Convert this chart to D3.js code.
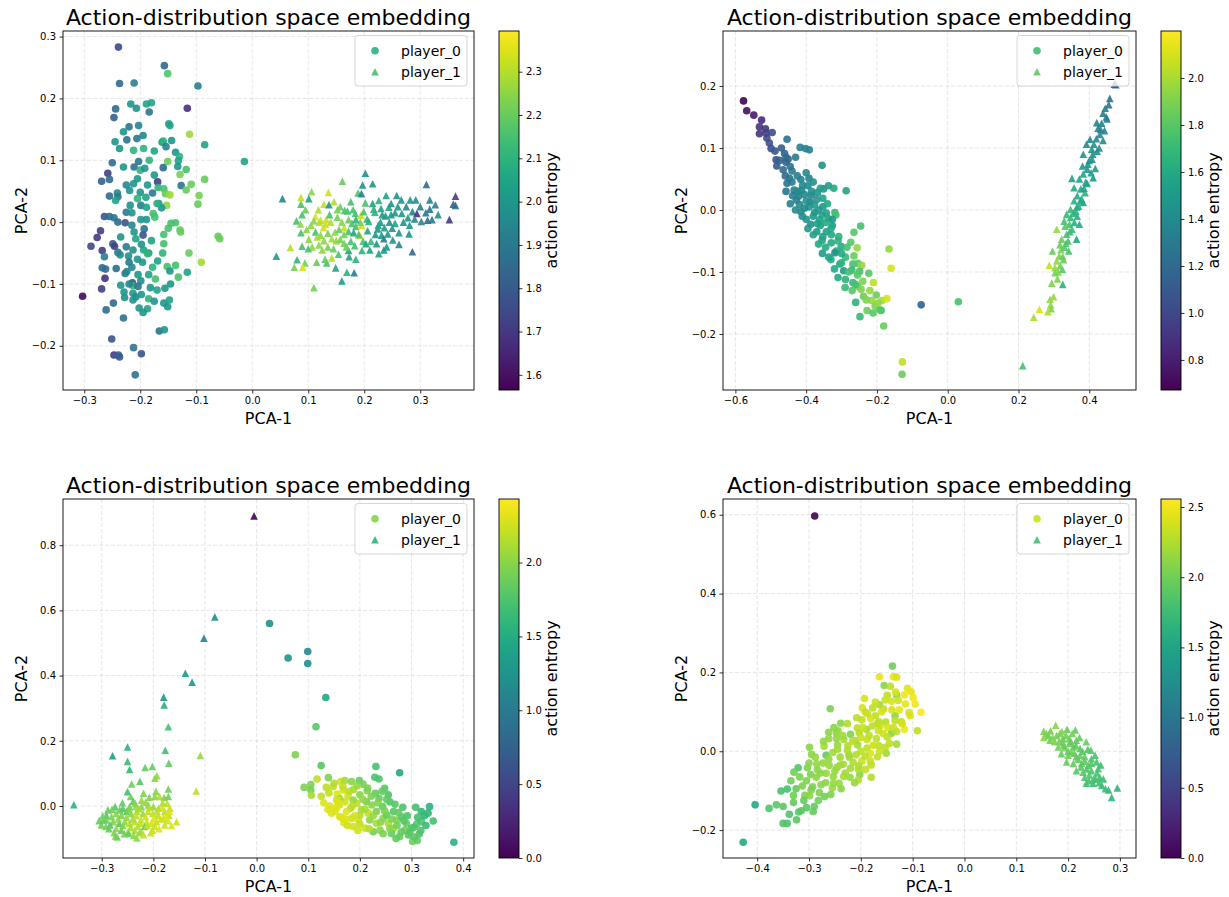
<!DOCTYPE html>
<html><head><meta charset="utf-8">
<script src="https://cdn.jsdelivr.net/npm/d3@7"></script>
<style>body{margin:0;background:#fff} text{font-family:"DejaVu Sans",sans-serif}</style>
</head><body><svg id="c" width="1229" height="897"></svg>
<script>
// ---------- DATA: [PCA-1, PCA-2, action entropy] ----------
const p1Player0 = [
[-0.239,0.283,1.75],[-0.157,0.253,1.85],[-0.151,0.240,2.17],[-0.237,0.224,1.85],[-0.211,0.225,1.92],[-0.097,0.220,1.92],[-0.116,0.184,1.68],[-0.244,0.183,1.85],[-0.247,0.169,1.82],[-0.217,0.191,2.0],
[-0.207,0.184,1.98],[-0.189,0.191,2.05],[-0.180,0.193,2.05],[-0.184,0.178,1.88],[-0.149,0.159,2.05],[-0.147,0.156,2.05],[-0.220,0.154,1.88],[-0.203,0.156,1.95],[-0.230,0.146,2.0],[-0.112,0.142,2.27],
[-0.245,0.130,2.0],[-0.224,0.133,1.88],[-0.206,0.135,1.9],[-0.161,0.129,2.0],[-0.144,0.132,2.0],[-0.159,0.131,2.1],[-0.154,0.122,1.92],[-0.085,0.125,2.05],[-0.237,0.119,2.0],[-0.212,0.116,2.1],
[-0.194,0.119,2.1],[-0.137,0.113,2.0],[-0.130,0.106,2.1],[-0.014,0.098,2.05],[-0.250,0.096,1.85],[-0.203,0.098,1.88],[-0.184,0.100,2.1],[-0.151,0.098,2.2],[-0.132,0.099,2.05],[-0.230,0.089,2.0],
[-0.211,0.089,1.88],[-0.159,0.088,1.85],[-0.133,0.090,2.0],[-0.200,0.084,2.1],[-0.192,0.087,2.0],[-0.118,0.085,2.15],[-0.258,0.079,1.72],[-0.129,0.077,2.22],[-0.085,0.069,2.2],[-0.255,0.069,1.85],
[-0.269,0.066,1.82],[-0.175,0.076,2.0],[-0.169,0.065,1.72],[-0.212,0.062,2.0],[-0.187,0.060,2.0],[-0.127,0.059,1.88],[-0.109,0.061,2.2],[-0.168,0.056,2.1],[-0.158,0.054,2.15],[-0.219,0.051,2.0],
[-0.200,0.048,2.0],[-0.178,0.047,1.9],[-0.155,0.046,2.2],[-0.147,0.044,2.27],[-0.118,0.052,2.2],[-0.095,0.043,2.22],[-0.255,0.042,1.85],[-0.241,0.047,1.95],[-0.240,0.041,1.9],[-0.244,0.035,2.05],
[-0.205,0.038,2.1],[-0.097,0.029,2.2],[-0.153,0.027,2.25],[-0.167,0.030,2.0],[-0.218,0.027,1.98],[-0.199,0.027,1.92],[-0.189,0.024,2.05],[-0.162,0.023,2.0],[-0.225,0.016,1.9],[-0.215,0.015,2.0],
[-0.177,0.014,2.15],[-0.174,0.008,2.15],[-0.264,0.009,1.78],[-0.255,0.009,1.85],[-0.247,0.007,1.88],[-0.227,-0.001,1.78],[-0.199,0.004,2.0],[-0.189,0.004,2.0],[-0.145,-0.002,2.15],[-0.137,-0.001,2.15],
[-0.150,-0.010,2.15],[-0.129,-0.013,2.2],[-0.128,-0.016,2.2],[-0.061,-0.023,2.2],[-0.058,-0.027,2.2],[-0.271,-0.014,1.72],[-0.277,-0.025,1.7],[-0.288,-0.039,1.75],[-0.249,-0.035,1.8],[-0.246,-0.039,1.72],
[-0.235,-0.024,2.0],[-0.211,-0.016,2.0],[-0.208,-0.027,2.05],[-0.193,-0.011,1.88],[-0.195,-0.021,1.78],[-0.158,-0.020,2.15],[-0.158,-0.035,2.15],[-0.268,-0.046,1.72],[-0.264,-0.056,1.92],[-0.240,-0.049,1.9],
[-0.236,-0.053,1.95],[-0.221,-0.055,1.98],[-0.213,-0.045,1.98],[-0.198,-0.036,2.0],[-0.194,-0.045,2.05],[-0.185,-0.050,2.0],[-0.187,-0.051,2.1],[-0.113,-0.050,2.2],[-0.091,-0.065,2.28],[-0.220,-0.065,1.9],
[-0.196,-0.065,2.0],[-0.169,-0.063,2.05],[-0.268,-0.074,1.85],[-0.262,-0.076,1.85],[-0.243,-0.075,1.85],[-0.215,-0.073,1.95],[-0.178,-0.073,2.1],[-0.152,-0.072,2.15],[-0.147,-0.079,2.0],[-0.137,-0.070,2.15],
[-0.116,-0.081,2.05],[-0.227,-0.083,1.9],[-0.224,-0.080,1.95],[-0.204,-0.085,2.0],[-0.263,-0.091,1.68],[-0.173,-0.092,2.15],[-0.132,-0.089,2.15],[-0.199,-0.095,1.98],[-0.214,-0.098,1.78],[-0.235,-0.102,2.0],
[-0.213,-0.103,2.1],[-0.204,-0.104,1.88],[-0.146,-0.100,2.0],[-0.269,-0.108,1.72],[-0.182,-0.106,2.0],[-0.156,-0.107,2.0],[-0.303,-0.120,1.58],[-0.229,-0.113,2.0],[-0.228,-0.122,1.98],[-0.213,-0.115,2.0],
[-0.208,-0.121,1.95],[-0.198,-0.117,2.0],[-0.213,-0.126,2.0],[-0.185,-0.124,2.1],[-0.175,-0.128,2.0],[-0.248,-0.131,1.85],[-0.148,-0.126,2.05],[-0.158,-0.131,2.0],[-0.151,-0.137,2.0],[-0.202,-0.139,2.0],
[-0.187,-0.140,2.05],[-0.195,-0.146,2.0],[-0.261,-0.142,1.85],[-0.230,-0.155,1.88],[-0.166,-0.176,1.88],[-0.157,-0.174,2.0],[-0.251,-0.189,1.78],[-0.212,-0.203,1.88],[-0.247,-0.215,1.7],[-0.239,-0.215,1.82],
[-0.237,-0.218,1.8],[-0.198,-0.213,1.78],[-0.209,-0.247,1.88],
[-0.225,0.060,1.95],[-0.205,0.070,2.0],[-0.190,0.040,2.05],[-0.215,-0.005,1.95],[-0.180,-0.030,2.05],[-0.205,-0.060,2.0],[-0.185,-0.085,2.05],[-0.225,-0.040,1.9],[-0.170,0.030,2.1],[-0.160,-0.050,2.1],
[-0.240,0.000,1.85],[-0.195,0.140,1.95],[-0.175,0.115,2.05],[-0.220,-0.100,1.95],[-0.170,-0.110,2.05]
];
const p1Player1 = [
[0.202,0.079,2.0],[0.161,0.066,2.2],[0.197,0.060,1.98],[0.215,0.062,2.0],[0.311,0.061,1.85],[0.363,0.042,1.72],[0.359,0.029,1.82],[0.363,0.027,1.85],[0.352,0.004,1.7],[0.054,0.038,1.95],
[0.087,0.040,2.32],[0.106,0.049,2.25],[0.136,0.048,2.33],[0.101,0.038,2.05],[0.087,0.029,2.15],[0.128,0.029,2.32],[0.146,0.033,2.3],[0.137,0.028,2.0],[0.176,0.033,2.15],[0.189,0.047,2.15],
[0.195,0.046,1.92],[0.202,0.031,2.15],[0.226,0.035,2.1],[0.239,0.043,2.05],[0.258,0.043,2.0],[0.266,0.036,2.0],[0.282,0.036,2.0],[0.292,0.036,1.98],[0.317,0.036,1.95],[0.327,0.028,1.92],
[0.317,0.021,1.88],[0.157,0.025,2.2],[0.165,0.019,2.15],[0.152,0.020,2.22],[0.170,0.018,2.15],[0.217,0.021,2.1],[0.230,0.022,2.05],[0.244,0.024,2.05],[0.248,0.030,2.0],[0.089,0.012,2.15],
[0.113,0.009,2.35],[0.122,0.003,2.33],[0.132,0.004,2.33],[0.138,0.012,2.15],[0.152,0.008,2.22],[0.184,0.014,2.15],[0.194,0.011,2.33],[0.199,0.017,2.15],[0.219,0.016,2.1],[0.232,0.012,2.02],
[0.248,0.012,2.0],[0.255,0.015,2.0],[0.267,0.014,2.0],[0.278,0.007,2.0],[0.286,0.017,1.92],[0.294,0.014,1.68],[0.302,0.001,1.95],[0.313,0.003,1.85],[0.321,0.004,1.9],[0.332,0.012,1.98],
[0.079,0.002,2.15],[0.086,-0.003,2.25],[0.120,0.000,2.3],[0.131,-0.004,2.32],[0.164,-0.009,2.32],[0.178,-0.002,2.15],[0.185,-0.007,2.15],[0.195,-0.005,2.33],[0.208,0.001,2.1],[0.229,0.000,2.02],
[0.245,0.000,2.0],[0.255,-0.002,2.05],[0.281,-0.005,2.0],[0.097,-0.012,2.25],[0.087,-0.017,2.15],[0.113,-0.016,2.15],[0.122,-0.021,2.25],[0.135,-0.018,2.22],[0.148,-0.016,2.25],[0.155,-0.012,2.2],
[0.172,-0.015,2.15],[0.181,-0.017,2.05],[0.192,-0.021,2.33],[0.206,-0.014,2.05],[0.220,-0.020,2.0],[0.231,-0.021,2.0],[0.235,-0.027,1.92],[0.242,-0.019,2.0],[0.262,-0.017,2.0],[0.280,-0.019,1.98],
[0.101,-0.028,2.25],[0.116,-0.024,2.28],[0.128,-0.030,2.25],[0.142,-0.027,2.28],[0.157,-0.028,2.22],[0.164,-0.034,2.22],[0.176,-0.031,2.15],[0.198,-0.031,2.15],[0.203,-0.035,2.05],[0.212,-0.031,2.12],
[0.222,-0.035,2.0],[0.251,-0.029,2.0],[0.262,-0.036,1.95],[0.068,-0.041,2.3],[0.089,-0.039,2.15],[0.107,-0.040,2.25],[0.119,-0.037,2.25],[0.135,-0.040,2.22],[0.145,-0.043,2.2],[0.172,-0.046,2.05],
[0.183,-0.038,2.15],[0.196,-0.046,2.1],[0.100,-0.043,2.15],[0.235,-0.045,2.0],[0.286,-0.048,1.85],[0.226,-0.051,2.05],[0.043,-0.055,2.02],[0.142,-0.058,2.3],[0.154,-0.052,2.15],[0.173,-0.056,2.05],
[0.080,-0.061,2.1],[0.094,-0.066,2.22],[0.115,-0.065,2.2],[0.133,-0.066,2.15],[0.075,-0.073,2.22],[0.090,-0.073,2.35],[0.149,-0.074,2.05],[0.169,-0.081,2.1],[0.182,-0.082,1.92],[0.160,-0.095,2.02],
[0.110,-0.106,2.22],[0.193,0.000,2.22],[0.236,-0.009,2.02],[0.224,-0.011,2.0],[0.185,0.004,2.1],[0.172,0.004,2.2],[0.164,-0.020,2.22],[0.127,-0.009,2.33],[0.110,0.002,2.25],
[0.095,0.020,2.2],[0.105,-0.005,2.25],[0.118,0.020,2.3],[0.125,-0.045,2.25],[0.140,0.000,2.3],[0.150,-0.030,2.25],[0.160,0.000,2.25],[0.168,-0.040,2.2],[0.180,0.020,2.15],[0.190,-0.020,2.15],
[0.205,0.005,2.1],[0.210,-0.045,2.05],[0.215,0.030,2.05],[0.225,-0.005,2.05],[0.238,0.010,2.0],[0.240,-0.040,2.0],[0.250,-0.010,2.0],[0.260,0.025,2.0],[0.270,0.000,1.98],[0.275,0.025,1.95],
[0.290,0.005,1.95],[0.300,0.025,1.92],[0.310,0.015,1.9],[0.130,-0.060,2.2],[0.185,-0.060,2.1]
];
const p2Player0 = [
[-0.577,0.176,0.68],[-0.568,0.160,0.72],[-0.548,0.153,0.78],[-0.526,0.145,0.85],[-0.532,0.134,0.9],[-0.515,0.131,0.9],[-0.532,0.123,0.9],[-0.513,0.124,0.95],[-0.496,0.125,1.05],[-0.511,0.116,1.0],
[-0.504,0.108,1.05],[-0.454,0.114,1.25],[-0.499,0.099,1.05],[-0.488,0.095,1.1],[-0.461,0.091,1.15],[-0.417,0.101,1.35],[-0.402,0.099,1.35],[-0.391,0.097,1.35],[-0.485,0.081,1.05],[-0.457,0.085,1.2],
[-0.451,0.082,1.2],[-0.483,0.071,1.1],[-0.457,0.077,1.15],[-0.355,0.072,1.45],[-0.440,0.063,1.3],[-0.459,0.055,1.2],[-0.447,0.051,1.25],[-0.415,0.049,1.35],[-0.392,0.051,1.35],[-0.454,0.043,1.25],
[-0.457,0.030,1.25],[-0.434,0.032,1.35],[-0.413,0.032,1.35],[-0.395,0.039,1.4],[-0.368,0.028,1.45],[-0.351,0.034,1.45],[-0.337,0.039,1.5],[-0.322,0.035,1.6],[-0.287,0.031,1.55],[-0.438,0.023,1.3],
[-0.421,0.022,1.35],[-0.405,0.025,1.4],[-0.389,0.013,1.3],[-0.370,0.017,1.5],[-0.353,0.019,1.55],[-0.419,0.009,1.4],[-0.392,0.005,1.45],[-0.353,0.005,1.5],[-0.415,-0.003,1.4],[-0.376,-0.004,1.45],
[-0.411,-0.010,1.42],[-0.355,-0.008,1.55],[-0.319,-0.004,1.7],[-0.316,-0.008,1.75],[-0.337,-0.014,1.55],[-0.326,-0.015,1.5],[-0.387,-0.023,1.45],[-0.368,-0.022,1.55],[-0.326,-0.025,1.5],[-0.246,-0.026,1.75],
[-0.370,-0.035,1.5],[-0.343,-0.035,1.55],[-0.265,-0.036,1.8],[-0.308,-0.043,1.65],[-0.355,-0.049,1.6],[-0.329,-0.053,1.6],[-0.274,-0.052,1.8],[-0.256,-0.061,1.95],[-0.166,-0.063,1.95],[-0.301,-0.059,1.6],
[-0.315,-0.066,1.65],[-0.354,-0.070,1.5],[-0.319,-0.069,1.45],[-0.336,-0.076,1.55],[-0.289,-0.076,1.7],[-0.265,-0.074,1.85],[-0.305,-0.087,1.6],[-0.268,-0.087,1.75],[-0.254,-0.086,1.8],[-0.243,-0.089,1.95],
[-0.160,-0.094,2.1],[-0.249,-0.099,1.75],[-0.294,-0.098,1.5],[-0.310,-0.109,1.6],[-0.289,-0.112,1.65],[-0.223,-0.102,1.8],[-0.268,-0.117,1.7],[-0.254,-0.123,1.85],[-0.245,-0.128,1.9],[-0.210,-0.117,2.05],
[-0.202,-0.137,1.85],[-0.238,-0.139,1.85],[-0.215,-0.146,1.95],[-0.186,-0.146,2.0],[-0.172,-0.143,2.1],[-0.205,-0.155,1.9],[-0.260,-0.149,1.65],[-0.228,-0.162,1.85],[-0.211,-0.166,1.8],[-0.188,-0.162,1.75],
[-0.248,-0.172,1.7],[-0.181,-0.187,1.85],[-0.128,-0.245,2.05],[-0.129,-0.265,1.85],[-0.386,0.024,1.35],[-0.376,0.008,1.5],[-0.343,-0.005,1.55],[-0.428,0.016,1.35],[-0.405,0.003,1.4],[-0.362,-0.016,1.55],
[-0.353,-0.043,1.55],[-0.329,-0.040,1.6],[-0.300,-0.070,1.6],[-0.271,-0.097,1.7],[-0.261,-0.120,1.75],[-0.192,-0.161,1.8],[-0.075,-0.153,1.15],[0.030,-0.148,1.75],
[-0.470,0.100,1.15],[-0.475,0.080,1.15],[-0.465,0.065,1.2],[-0.445,0.070,1.25],[-0.430,0.085,1.3],[-0.440,0.045,1.3],[-0.425,0.055,1.35],[-0.410,0.040,1.4],[-0.400,0.060,1.4],[-0.445,0.010,1.35],
[-0.430,0.000,1.4],[-0.425,0.030,1.4],[-0.400,0.015,1.45],[-0.385,0.030,1.45],[-0.380,0.045,1.45],[-0.400,-0.015,1.45],[-0.380,-0.010,1.5],[-0.365,0.000,1.5],[-0.360,0.035,1.55],[-0.395,-0.030,1.5],
[-0.380,-0.040,1.55],[-0.360,-0.025,1.55],[-0.345,-0.020,1.6],[-0.340,0.010,1.6],[-0.330,-0.030,1.6],[-0.365,-0.055,1.6],[-0.345,-0.060,1.6],[-0.330,-0.080,1.6],[-0.310,-0.050,1.65],[-0.300,-0.085,1.65],
[-0.320,-0.095,1.6],[-0.285,-0.060,1.75],[-0.280,-0.100,1.75],[-0.290,-0.125,1.7],[-0.270,-0.130,1.8],[-0.255,-0.105,1.8],[-0.240,-0.115,1.9],[-0.230,-0.145,1.9],[-0.220,-0.130,1.95],[-0.197,-0.150,1.95]
];
const p2Player1 = [
[0.471,0.203,1.1],[0.475,0.202,1.15],[0.458,0.180,1.25],[0.445,0.164,1.3],[0.439,0.156,1.3],[0.450,0.147,1.35],[0.435,0.140,1.35],[0.425,0.132,1.35],[0.443,0.128,1.35],[0.430,0.122,1.4],
[0.439,0.112,1.4],[0.402,0.114,1.4],[0.392,0.106,1.4],[0.413,0.106,1.45],[0.422,0.095,1.45],[0.383,0.090,1.45],[0.408,0.082,1.45],[0.417,0.067,1.5],[0.394,0.066,1.5],[0.383,0.058,1.55],
[0.411,0.052,1.5],[0.351,0.051,1.55],[0.372,0.050,1.55],[0.394,0.043,1.55],[0.376,0.034,1.6],[0.388,0.028,1.65],[0.366,0.023,1.6],[0.357,0.015,1.65],[0.383,0.012,1.55],[0.370,0.006,1.65],
[0.362,-0.002,1.65],[0.336,-0.007,1.7],[0.347,-0.012,1.7],[0.366,-0.010,1.65],[0.329,-0.018,1.75],[0.344,-0.023,1.75],[0.372,-0.023,1.6],[0.351,-0.031,1.7],[0.308,-0.031,1.95],[0.336,-0.039,1.75],
[0.364,-0.047,1.6],[0.322,-0.047,1.85],[0.334,-0.054,1.8],[0.296,-0.066,1.85],[0.320,-0.064,1.9],[0.342,-0.066,1.75],[0.315,-0.074,1.9],[0.327,-0.080,1.85],[0.287,-0.089,2.05],[0.303,-0.093,1.95],
[0.324,-0.096,1.8],[0.303,-0.101,1.9],[0.310,-0.111,1.9],[0.294,-0.118,1.9],[0.325,-0.120,1.65],[0.299,-0.140,1.95],[0.289,-0.144,1.95],[0.291,-0.153,1.95],[0.292,-0.159,1.9],[0.259,-0.160,2.1],
[0.283,-0.164,2.0],[0.243,-0.173,2.0],[0.212,-0.251,1.75],[0.381,0.071,1.5],[0.357,0.036,1.6],[0.378,0.018,1.6],[0.347,0.001,1.7],[0.332,-0.026,1.8],[0.317,-0.056,1.85],[0.308,-0.082,1.95],
[0.421,0.141,1.35],[0.407,0.098,1.45],[0.396,0.074,1.5],
[0.455,0.170,1.25],[0.448,0.150,1.3],[0.432,0.130,1.35],[0.420,0.115,1.4],[0.428,0.100,1.4],[0.410,0.090,1.45],[0.400,0.080,1.45],[0.405,0.060,1.5],[0.390,0.045,1.55],[0.385,0.035,1.55],
[0.375,0.015,1.6],[0.365,0.005,1.6],[0.355,-0.005,1.65],[0.358,-0.020,1.65],[0.345,-0.035,1.7],[0.340,-0.050,1.75],[0.330,-0.060,1.8],[0.325,-0.075,1.85],[0.318,-0.090,1.85],[0.312,-0.100,1.9]
];
const p3Player0 = [
[0.025,0.560,1.2],[0.061,0.454,1.25],[0.099,0.474,1.15],[0.099,0.437,1.2],[0.134,0.333,1.45],[0.115,0.243,1.8],[0.075,0.157,1.95],[0.125,0.124,1.8],[0.231,0.121,1.7],[0.277,0.102,1.45],
[0.117,0.083,2.2],[0.139,0.087,1.95],[0.229,0.088,1.75],[0.237,0.083,1.75],[0.092,0.057,1.95],[0.105,0.066,1.95],[0.105,0.049,1.9],[0.106,0.033,2.1],[0.135,0.057,2.2],[0.148,0.059,2.2],
[0.163,0.075,2.25],[0.171,0.078,2.1],[0.184,0.075,2.0],[0.199,0.078,1.85],[0.206,0.067,1.9],[0.156,0.037,2.3],[0.168,0.049,2.25],[0.177,0.031,2.25],[0.188,0.051,2.1],[0.200,0.034,2.0],
[0.214,0.047,1.95],[0.230,0.039,1.85],[0.248,0.054,1.8],[0.237,0.023,1.85],[0.255,0.034,1.75],[0.258,0.013,1.75],[0.142,0.000,2.3],[0.152,-0.017,2.3],[0.160,0.003,2.25],[0.171,0.013,2.25],
[0.182,-0.007,2.15],[0.194,0.008,2.2],[0.203,-0.012,2.1],[0.213,0.013,1.9],[0.223,0.003,2.0],[0.232,-0.017,1.95],[0.244,-0.002,1.85],[0.265,-0.017,1.8],[0.283,-0.004,1.75],[0.308,-0.004,1.7],
[0.319,-0.017,1.6],[0.335,-0.002,1.55],[0.332,-0.022,1.6],[0.342,-0.046,1.7],[0.145,-0.022,2.3],[0.161,-0.033,2.3],[0.169,-0.051,2.3],[0.184,-0.038,2.25],[0.197,-0.043,2.3],[0.187,-0.063,2.25],
[0.210,-0.068,2.25],[0.219,-0.043,2.0],[0.226,-0.079,1.9],[0.232,-0.053,2.1],[0.245,-0.038,2.0],[0.255,-0.053,2.1],[0.265,-0.068,2.1],[0.277,-0.094,1.85],[0.287,-0.074,1.9],[0.290,-0.053,1.85],
[0.300,-0.068,1.75],[0.310,-0.055,1.8],[0.319,-0.048,1.75],[0.302,-0.109,1.9],[0.311,-0.106,1.85],[0.315,-0.086,1.75],[0.382,-0.111,1.55],[0.174,-0.017,2.3],[0.200,-0.028,2.15],[0.252,-0.028,1.85],
[0.271,-0.043,1.95],[0.281,-0.033,1.8],[0.239,-0.074,2.0],[0.216,-0.022,2.2],[0.161,0.023,2.1],[0.187,0.018,2.05],[0.155,0.018,2.25],[0.261,-0.084,1.85],[0.294,-0.089,1.8],
[0.125,0.030,2.2],[0.130,0.010,2.3],[0.138,-0.010,2.3],[0.140,0.040,2.2],[0.150,0.070,2.15],[0.158,0.010,2.3],[0.165,-0.035,2.3],[0.167,0.060,2.2],[0.176,-0.060,2.25],[0.180,0.045,2.15],
[0.185,0.000,2.2],[0.190,-0.030,2.25],[0.195,0.062,2.05],[0.200,-0.055,2.2],[0.206,0.020,2.05],[0.210,-0.010,2.1],[0.215,0.055,1.95],[0.218,-0.070,2.15],[0.222,0.030,1.95],[0.226,-0.030,2.05],
[0.235,0.010,1.95],[0.240,-0.050,2.0],[0.243,0.045,1.85],[0.248,-0.015,1.95],[0.252,0.020,1.85],[0.258,-0.070,2.0],[0.262,-0.040,1.95],[0.268,0.005,1.8],[0.272,-0.060,1.9],[0.275,-0.020,1.85],
[0.280,-0.080,1.85],[0.285,-0.045,1.8],[0.292,-0.030,1.75],[0.297,-0.080,1.8],[0.305,-0.065,1.75],[0.312,-0.035,1.7],[0.318,-0.075,1.75],[0.325,-0.030,1.6],[0.328,-0.060,1.65],[0.305,-0.095,1.8],
[0.270,-0.100,1.85],[0.245,-0.085,1.95],[0.196,-0.075,2.25],[0.172,-0.040,2.3],[0.155,-0.005,2.3]
];
const p3Player1 = [
[-0.005,0.890,0.0],[-0.081,0.580,1.2],[-0.102,0.515,1.1],[-0.138,0.407,1.3],[-0.125,0.380,1.3],[-0.180,0.334,1.3],[-0.179,0.310,1.5],[-0.171,0.243,1.7],[-0.250,0.181,1.55],[-0.279,0.154,1.4],
[-0.177,0.171,1.7],[-0.109,0.155,2.05],[-0.250,0.137,1.65],[-0.170,0.131,1.85],[-0.246,0.112,1.6],[-0.216,0.118,1.85],[-0.202,0.121,1.85],[-0.193,0.093,2.05],[-0.197,0.085,2.0],[-0.242,0.068,1.9],
[-0.226,0.076,1.8],[-0.250,0.044,1.7],[-0.171,0.052,1.9],[-0.117,0.046,2.2],[-0.244,0.029,1.9],[-0.239,0.015,1.8],[-0.219,0.039,1.95],[-0.223,0.018,2.05],[-0.208,0.027,1.95],[-0.197,0.029,2.0],
[-0.188,0.029,2.15],[-0.179,0.026,1.95],[-0.171,0.029,1.9],[-0.354,0.004,1.55],[-0.173,0.008,2.2],[-0.155,-0.048,2.25],[-0.170,-0.028,2.2],[-0.168,-0.007,2.2],[-0.178,-0.017,2.15],[-0.190,-0.007,2.1],
[-0.200,-0.002,2.05],[-0.210,0.003,1.95],[-0.223,-0.002,2.0],[-0.234,-0.002,2.05],[-0.246,-0.002,1.9],[-0.259,-0.007,1.8],[-0.274,-0.002,1.8],[-0.288,-0.012,1.85],[-0.291,-0.028,1.8],[-0.301,-0.058,1.9],
[-0.292,-0.063,1.9],[-0.281,-0.033,1.95],[-0.272,-0.023,2.0],[-0.262,-0.028,1.95],[-0.252,-0.017,1.8],[-0.243,-0.023,2.0],[-0.232,-0.017,2.15],[-0.220,-0.023,2.05],[-0.210,-0.017,2.2],[-0.201,-0.023,2.2],
[-0.191,-0.028,2.2],[-0.181,-0.038,2.2],[-0.278,-0.048,1.95],[-0.266,-0.053,1.8],[-0.255,-0.048,2.05],[-0.246,-0.053,2.15],[-0.236,-0.048,2.2],[-0.225,-0.053,2.2],[-0.213,-0.048,2.25],[-0.204,-0.053,2.25],
[-0.194,-0.048,2.2],[-0.178,-0.058,2.25],[-0.272,-0.069,2.05],[-0.262,-0.074,1.85],[-0.249,-0.079,2.05],[-0.236,-0.074,2.15],[-0.223,-0.079,2.15],[-0.202,-0.074,2.2],[-0.273,-0.092,1.9],[-0.248,-0.084,1.85],
[-0.227,-0.082,2.05],[-0.291,-0.043,1.9],[-0.284,-0.058,1.8],[-0.217,-0.063,1.85],[-0.297,-0.043,1.85],
[-0.305,-0.045,1.85],[-0.298,-0.030,1.9],[-0.286,-0.070,1.85],[-0.280,-0.010,1.9],[-0.276,-0.082,1.95],[-0.268,-0.040,2.0],[-0.265,-0.012,1.85],[-0.259,-0.060,1.95],[-0.256,-0.085,1.9],[-0.252,-0.035,2.05],
[-0.248,-0.010,1.95],[-0.244,-0.066,2.1],[-0.240,-0.040,2.1],[-0.238,-0.090,2.0],[-0.233,-0.030,2.2],[-0.230,-0.062,2.15],[-0.228,-0.008,2.1],[-0.224,-0.042,2.2],[-0.219,-0.088,2.2],[-0.215,-0.033,2.25],
[-0.212,-0.060,2.2],[-0.208,-0.005,2.2],[-0.205,-0.082,2.25],[-0.200,-0.040,2.3],[-0.197,-0.062,2.25],[-0.193,-0.015,2.2],[-0.189,-0.070,2.3],[-0.186,-0.040,2.25],[-0.183,-0.005,2.25],[-0.176,-0.030,2.3],
[-0.172,-0.045,2.25],[-0.169,-0.015,2.3],[-0.165,-0.060,2.3],[-0.260,0.010,1.85],[-0.235,0.008,2.0],[-0.215,0.012,2.05],[-0.195,0.045,2.0],[-0.182,0.010,2.15],[-0.270,-0.095,1.9],[-0.232,-0.098,2.05]
];
const p4Player0 = [
[-0.289,0.597,0.0],
[-0.139,0.216,2.0],[-0.164,0.189,2.45],[-0.137,0.189,2.45],[-0.131,0.188,2.4],[-0.155,0.167,2.1],[-0.143,0.165,2.3],[-0.149,0.142,2.3],[-0.131,0.143,2.1],[-0.116,0.143,2.5],[-0.103,0.151,2.45],
[-0.099,0.136,2.5],[-0.193,0.134,2.4],[-0.141,0.127,2.4],[-0.128,0.129,2.35],[-0.259,0.108,2.05],[-0.197,0.110,2.4],[-0.177,0.110,2.3],[-0.164,0.118,2.2],[-0.156,0.107,2.3],[-0.191,0.099,2.3],
[-0.172,0.090,2.3],[-0.107,0.098,2.4],[-0.084,0.099,2.55],[-0.134,0.090,2.1],[-0.198,0.080,2.3],[-0.181,0.083,2.4],[-0.165,0.075,2.3],[-0.152,0.074,2.25],[-0.134,0.078,2.3],[-0.122,0.075,2.3],
[-0.239,0.071,2.1],[-0.116,0.056,2.5],[-0.091,0.052,2.3],[-0.207,0.059,2.3],[-0.189,0.056,2.2],[-0.166,0.052,2.35],[-0.141,0.046,2.1],[-0.262,0.048,2.1],[-0.247,0.046,2.15],[-0.220,0.043,2.05],
[-0.203,0.047,2.25],[-0.149,0.036,2.3],[-0.262,0.032,2.15],[-0.247,0.032,2.15],[-0.233,0.030,2.2],[-0.211,0.027,2.25],[-0.188,0.030,2.35],[-0.170,0.032,2.3],[-0.271,0.013,2.2],[-0.245,0.016,2.15],
[-0.225,0.014,2.25],[-0.206,0.016,2.2],[-0.188,0.008,2.3],[-0.165,0.014,2.3],[-0.153,0.010,2.3],[-0.131,0.018,2.2],[-0.299,0.010,2.1],[-0.295,-0.008,2.1],[-0.267,-0.010,1.95],[-0.254,-0.003,2.2],
[-0.240,-0.015,2.2],[-0.223,-0.009,2.2],[-0.209,-0.009,2.25],[-0.182,-0.005,2.4],[-0.168,-0.014,2.3],[-0.151,-0.005,2.2],[-0.285,-0.032,2.15],[-0.273,-0.030,2.15],[-0.261,-0.036,2.15],[-0.234,-0.033,2.2],
[-0.215,-0.028,2.25],[-0.198,-0.025,2.35],[-0.182,-0.024,2.35],[-0.321,-0.042,1.85],[-0.329,-0.053,2.0],[-0.303,-0.042,2.05],[-0.284,-0.047,2.1],[-0.267,-0.056,2.15],[-0.246,-0.041,2.15],[-0.220,-0.043,2.2],
[-0.191,-0.046,2.3],[-0.297,-0.059,2.05],[-0.286,-0.066,2.1],[-0.253,-0.064,2.15],[-0.233,-0.064,2.2],[-0.221,-0.066,2.15],[-0.202,-0.059,2.1],[-0.180,-0.066,2.25],[-0.205,-0.073,2.25],[-0.313,-0.088,2.05],
[-0.277,-0.085,2.1],[-0.253,-0.081,2.15],[-0.242,-0.081,2.15],[-0.354,-0.101,1.8],[-0.342,-0.096,1.8],[-0.330,-0.112,2.0],[-0.296,-0.098,2.05],[-0.280,-0.105,2.05],[-0.308,-0.112,2.05],[-0.299,-0.113,2.1],
[-0.255,-0.093,2.15],[-0.404,-0.136,1.55],[-0.377,-0.145,1.85],[-0.363,-0.136,1.9],[-0.320,-0.154,1.9],[-0.305,-0.143,1.9],[-0.292,-0.153,1.95],[-0.315,-0.151,1.9],[-0.350,-0.183,1.85],[-0.342,-0.183,1.85],
[-0.324,-0.174,1.9],[-0.427,-0.231,1.55],[-0.240,-0.035,2.2],[-0.244,0.052,2.15],[-0.204,-0.037,2.25],[-0.226,0.003,2.25],[-0.178,0.064,2.3],[-0.163,0.064,2.35],[-0.200,0.035,2.35],[-0.131,0.050,2.3],
[-0.335,-0.075,2.0],[-0.325,-0.095,1.95],[-0.318,-0.065,2.05],[-0.310,-0.125,1.95],[-0.305,-0.075,2.05],[-0.300,-0.030,2.1],[-0.293,-0.090,2.05],[-0.288,-0.015,2.15],[-0.282,-0.125,2.0],[-0.278,-0.055,2.1],
[-0.272,0.025,2.15],[-0.268,-0.080,2.1],[-0.262,-0.020,2.15],[-0.258,-0.110,2.05],[-0.252,0.060,2.1],[-0.250,-0.050,2.15],[-0.245,0.005,2.2],[-0.238,-0.095,2.1],[-0.235,0.040,2.2],[-0.230,-0.055,2.2],
[-0.226,0.070,2.25],[-0.222,-0.015,2.2],[-0.216,0.025,2.3],[-0.212,-0.080,2.15],[-0.208,0.085,2.3],[-0.205,-0.045,2.25],[-0.200,0.000,2.3],[-0.196,0.060,2.35],[-0.192,-0.012,2.3],[-0.187,0.095,2.35],
[-0.184,0.040,2.3],[-0.180,-0.035,2.3],[-0.176,0.015,2.35],[-0.172,0.125,2.35],[-0.168,0.070,2.3],[-0.164,0.000,2.35],[-0.160,0.100,2.4],[-0.157,0.045,2.35],[-0.153,0.130,2.35],[-0.148,0.060,2.4],
[-0.145,0.020,2.3],[-0.140,0.105,2.4],[-0.137,0.060,2.35],[-0.133,0.150,2.4],[-0.126,0.105,2.45],[-0.120,0.070,2.4],[-0.114,0.120,2.45],[-0.110,0.160,2.45],[-0.105,0.090,2.4],[-0.095,0.120,2.5],
[-0.350,-0.140,1.9],[-0.338,-0.160,1.85],[-0.330,-0.130,1.95],[-0.290,-0.140,1.95],[-0.270,-0.115,2.0]
];
const p4Player1 = [
[0.176,0.066,2.1],[0.153,0.051,2.05],[0.166,0.052,2.0],[0.198,0.056,1.95],[0.214,0.054,1.95],[0.184,0.045,2.05],[0.153,0.035,2.1],[0.165,0.028,2.0],[0.174,0.024,2.05],[0.190,0.032,1.95],
[0.202,0.032,2.0],[0.216,0.028,1.95],[0.235,0.024,1.95],[0.181,0.011,2.0],[0.194,0.009,2.05],[0.210,0.011,1.95],[0.223,0.007,1.9],[0.244,0.003,1.9],[0.187,-0.006,1.95],[0.200,-0.010,2.0],
[0.216,-0.014,1.9],[0.232,-0.014,1.95],[0.245,-0.019,1.85],[0.197,-0.027,1.95],[0.210,-0.031,1.95],[0.226,-0.031,1.9],[0.239,-0.036,1.9],[0.255,-0.027,1.8],[0.216,-0.049,1.9],[0.229,-0.053,1.9],
[0.245,-0.049,1.85],[0.258,-0.044,1.8],[0.232,-0.066,1.85],[0.253,-0.070,1.8],[0.261,-0.066,1.75],[0.235,-0.081,1.75],[0.248,-0.081,1.75],[0.265,-0.087,1.7],[0.278,-0.098,1.7],[0.295,-0.093,1.65],
[0.284,-0.117,1.65],[0.190,0.021,2.05],[0.206,-0.002,2.0],[0.223,-0.010,1.95],[0.203,0.020,2.0],
[0.158,0.045,2.05],[0.162,0.040,2.0],[0.170,0.035,2.05],[0.178,0.040,2.0],[0.183,0.025,2.0],[0.188,0.050,2.05],[0.192,0.015,1.95],[0.196,0.040,2.0],[0.200,0.000,1.95],[0.205,0.025,1.95],
[0.208,0.045,2.0],[0.212,-0.005,1.95],[0.215,0.015,1.9],[0.219,-0.020,1.95],[0.222,0.035,1.95],[0.225,-0.040,1.9],[0.228,0.000,1.9],[0.232,-0.025,1.9],[0.236,-0.045,1.85],[0.238,0.005,1.85],
[0.241,-0.060,1.85],[0.245,-0.030,1.85],[0.249,-0.070,1.8],[0.252,-0.010,1.8],[0.256,-0.055,1.8],[0.260,-0.080,1.75],[0.263,-0.035,1.75],[0.268,-0.070,1.75],[0.272,-0.095,1.7],[0.240,-0.075,1.8]
];

// axis limits, tick labels, colorbar ranges
const xDomains = [[-0.338,0.396],[-0.635,0.532],[-0.375,0.421],[-0.466,0.331]];
const yDomains = [[-0.2715,0.309],[-0.2903,0.2887],[-0.1595,0.9417],[-0.2708,0.640]];
const cDomains = [[1.565,2.394],[0.672,2.20],[0,2.43],[0,2.557]];
const xTicks = [[-0.3,-0.2,-0.1,0,0.1,0.2,0.3],[-0.6,-0.4,-0.2,0,0.2,0.4],[-0.3,-0.2,-0.1,0,0.1,0.2,0.3,0.4],[-0.4,-0.3,-0.2,-0.1,0,0.1,0.2,0.3]];
const yTicks = [[-0.2,-0.1,0,0.1,0.2,0.3],[-0.2,-0.1,0,0.1,0.2],[0,0.2,0.4,0.6,0.8],[-0.2,0,0.2,0.4,0.6]];
const cTicks = [[1.6,1.7,1.8,1.9,2.0,2.1,2.2,2.3],[0.8,1.0,1.2,1.4,1.6,1.8,2.0],[0,0.5,1,1.5,2],[0,0.5,1,1.5,2,2.5]];
const legendEntropy = [[2.09,2.15],[1.74,1.82],[1.99,1.58],[2.35,1.76]];
const seriesNames = ["player_0","player_1"];
const titleText = "Action-distribution space embedding";
const xLabel = "PCA-1", yLabel = "PCA-2", cLabel = "action entropy";
const allData = [[p1Player0,p1Player1],[p2Player0,p2Player1],[p3Player0,p3Player1],[p4Player0,p4Player1]];

// ---------- LAYOUT ----------
const layouts = [
 {left:63, top:31, w:411, h:359, cbx:499, cbw:20},
 {left:723, top:31, w:413, h:359, cbx:1161, cbw:20},
 {left:63, top:499, w:411, h:359, cbx:499, cbw:20},
 {left:723, top:499, w:413, h:359, cbx:1161, cbw:20}
];
const MS = 7.6;
const triPath = `M0,${-MS/2}L${-MS/2},${MS/2}L${MS/2},${MS/2}Z`;

const svg = d3.select('#c');
svg.append('rect').attr('width',1229).attr('height',897).attr('fill','#fff');
const defs = svg.append('defs');
const fmt = d3.format('.1f');

function drawPanel(i) {
  const L = layouts[i];
  const g = svg.append('g');
  const x = d3.scaleLinear().domain(xDomains[i]).range([L.left, L.left+L.w]);
  const y = d3.scaleLinear().domain(yDomains[i]).range([L.top+L.h, L.top]);
  const col = d3.scaleSequential(d3.interpolateViridis).domain(cDomains[i]);

  const grid = g.append('g').attr('stroke','#b0b0b0').attr('stroke-opacity',0.4)
    .attr('stroke-dasharray','4,2').attr('stroke-width',0.8);
  grid.selectAll('line.gv').data(xTicks[i]).join('line').attr('class','gv')
    .attr('x1',d=>x(d)).attr('x2',d=>x(d)).attr('y1',L.top).attr('y2',L.top+L.h);
  grid.selectAll('line.gh').data(yTicks[i]).join('line').attr('class','gh')
    .attr('y1',d=>y(d)).attr('y2',d=>y(d)).attr('x1',L.left).attr('x2',L.left+L.w);

  defs.append('clipPath').attr('id','clip'+i).append('rect')
    .attr('x',L.left).attr('y',L.top).attr('width',L.w).attr('height',L.h);
  const pts = g.append('g').attr('clip-path',`url(#clip${i})`);
  pts.selectAll('circle').data(allData[i][0]).join('circle')
    .attr('cx',d=>x(d[0])).attr('cy',d=>y(d[1])).attr('r',MS/2)
    .attr('fill',d=>col(d[2])).attr('fill-opacity',0.9);
  pts.selectAll('path').data(allData[i][1]).join('path')
    .attr('d',triPath).attr('transform',d=>`translate(${x(d[0])},${y(d[1])})`)
    .attr('fill',d=>col(d[2])).attr('fill-opacity',0.9);

  const ax = g.append('g').attr('transform',`translate(0,${L.top+L.h})`)
    .call(d3.axisBottom(x).tickValues(xTicks[i]).tickFormat(fmt).tickSize(3.5).tickPadding(3.5));
  const ay = g.append('g').attr('transform',`translate(${L.left},0)`)
    .call(d3.axisLeft(y).tickValues(yTicks[i]).tickFormat(fmt).tickSize(3.5).tickPadding(3.5));
  [ax,ay].forEach(a=>{
    a.select('.domain').remove();
    a.selectAll('line').attr('stroke','#000').attr('stroke-width',0.8);
    a.selectAll('text').attr('font-size','10px').attr('fill','#000').attr('font-family','DejaVu Sans');
  });
  g.append('rect').attr('x',L.left).attr('y',L.top).attr('width',L.w).attr('height',L.h)
    .attr('fill','none').attr('stroke','#000').attr('stroke-width',0.9);

  g.append('text').attr('x',L.left+L.w/2).attr('y',L.top-6).attr('text-anchor','middle')
    .attr('font-size','22px').text(titleText);
  g.append('text').attr('x',L.left+L.w/2).attr('y',L.top+L.h+34).attr('text-anchor','middle')
    .attr('font-size','16px').text(xLabel);
  g.append('text').attr('transform',`translate(${L.left-36},${L.top+L.h/2}) rotate(-90)`)
    .attr('text-anchor','middle').attr('font-size','16px').text(yLabel);

  const R = L.left+L.w;
  const lg = g.append('g');
  lg.append('rect').attr('x',R-119).attr('y',L.top+4.5).attr('width',112).attr('height',50.5)
    .attr('rx',3).attr('fill','#fff').attr('fill-opacity',0.8).attr('stroke','#cccccc').attr('stroke-width',0.8);
  lg.append('circle').attr('cx',R-99).attr('cy',L.top+19.7).attr('r',MS/2)
    .attr('fill',col(legendEntropy[i][0])).attr('fill-opacity',0.9);
  lg.append('path').attr('d',triPath).attr('transform',`translate(${R-99},${L.top+40.7})`)
    .attr('fill',col(legendEntropy[i][1])).attr('fill-opacity',0.9);
  seriesNames.forEach((s,k)=>{
    lg.append('text').attr('x',R-73).attr('y',L.top+19.7+21*k).attr('dy','0.35em')
      .attr('font-size','14px').text(s);
  });

  const gid = 'grad'+i;
  const grad = defs.append('linearGradient').attr('id',gid).attr('x1',0).attr('y1',1).attr('x2',0).attr('y2',0);
  d3.range(0,1.0001,0.05).forEach(t=>grad.append('stop').attr('offset',t).attr('stop-color',d3.interpolateViridis(t)));
  g.append('rect').attr('x',L.cbx).attr('y',L.top).attr('width',L.cbw).attr('height',L.h).attr('fill',`url(#${gid})`);
  const cs = d3.scaleLinear().domain(cDomains[i]).range([L.top+L.h, L.top]);
  const ac = g.append('g').attr('transform',`translate(${L.cbx+L.cbw},0)`)
    .call(d3.axisRight(cs).tickValues(cTicks[i]).tickFormat(fmt).tickSize(3.5).tickPadding(3.5));
  ac.select('.domain').remove();
  ac.selectAll('line').attr('stroke','#000').attr('stroke-width',0.8);
  ac.selectAll('text').attr('font-size','10px').attr('fill','#000').attr('font-family','DejaVu Sans');
  g.append('rect').attr('x',L.cbx).attr('y',L.top).attr('width',L.cbw).attr('height',L.h)
    .attr('fill','none').attr('stroke','#000').attr('stroke-width',0.9);
  g.append('text').attr('transform',`translate(${L.cbx+L.cbw+38},${L.top+L.h/2}) rotate(-90)`)
    .attr('text-anchor','middle').attr('font-size','16px').text(cLabel);
}
[0,1,2,3].forEach(drawPanel);
</script></body></html>
